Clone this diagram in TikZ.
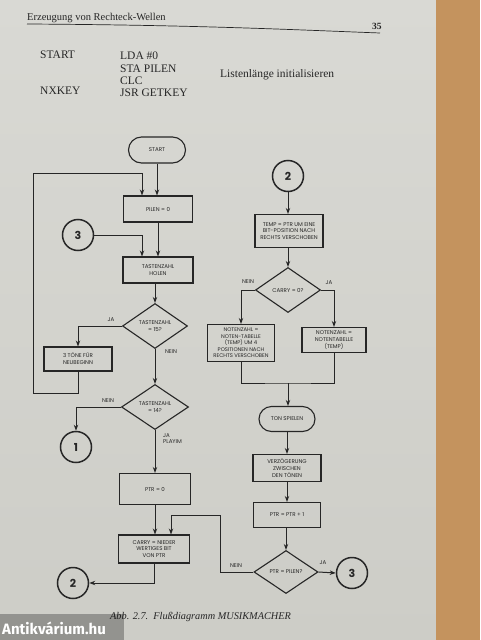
\documentclass[tikz,border=0pt]{standalone}
\usepackage{fontspec}
\setmainfont{Liberation Serif}
\newfontfamily\fc{Poppins}
\newfontfamily\wm{Fira Sans}
\usetikzlibrary{shapes.geometric,shapes.misc,arrows.meta,calc}
\definecolor{ink}{HTML}{262626}
\definecolor{paper}{HTML}{D9D9D4}
\definecolor{paperb}{HTML}{CDCDC7}
\definecolor{wood}{HTML}{C4935E}
\begin{document}
\begin{tikzpicture}[x=1pt,y=-1pt,
  line/.style={draw=ink,line width=1pt},
  arr/.style={line,-{Stealth[length=6pt,width=4.4pt]}},
  fcfont/.style={font=\fc\fontsize{5.5}{6.8}\selectfont},
  box/.style={draw=ink,line width=1.1pt,fcfont,align=center,inner sep=1pt,text=ink},
  dia/.style={box,diamond,aspect=1.5,inner sep=0pt},
  term/.style={box,rounded rectangle},
  conn/.style={draw=ink,circle,line width=1.5pt,minimum size=31pt,inner sep=0pt,font=\fc\bfseries\fontsize{11}{12}\selectfont,text=ink},
  lbl/.style={fcfont,text=ink,inner sep=0pt,align=left},
  code/.style={font=\fontsize{11.5}{13}\selectfont,anchor=base west,inner sep=0pt,text=ink}]
\useasboundingbox (0,0) rectangle (480,640);
% background
\shade[top color=paper,bottom color=paperb] (0,0) rectangle (436,640);
\fill[wood] (436,0) rectangle (480,640);
% header
\node[font=\fontsize{10.5}{12}\selectfont,anchor=base west,inner sep=0pt,text=ink] (hdr) at (27,20) {Erzeugung von Rechteck-Wellen};
\node[font=\bfseries\fontsize{9.5}{11}\selectfont,anchor=base west,inner sep=0pt,text=ink] (pg) at (372,29) {35};
\draw[ink,line width=0.7pt] (27,24) .. controls (200,25) and (300,30) .. (380,33);
% code
\node[code] (c1a) at (40,58) {START};
\node[code] (c1b) at (120,59) {LDA \#0};
\node[code] (c2b) at (120,72) {STA PILEN};
\node[code] (c2c) at (220,77) {Listenlänge initialisieren};
\node[code] (c3b) at (120,84) {CLC};
\node[code] (c4a) at (40,94) {NXKEY};
\node[code] (c4b) at (120,96) {JSR GETKEY};
% left column
\node[term,minimum width=59pt,minimum height=26pt] (start) at (157,150) {START};
\node[box,minimum width=69pt,minimum height=26pt] (pilen) at (158,209) {PILEN = 0};
\node[conn] (k3) at (78,235) {3};
\node[box,minimum width=70pt,minimum height=26pt] (taste) at (158,270) {TASTENZAHL\\HOLEN};
\node[dia,minimum width=65pt,minimum height=45pt] (d15) at (155,326) {TASTENZAHL\\= 15?};
\node[box,minimum width=68pt,minimum height=24pt] (drei) at (78,359) {3 TÖNE FÜR\\NEUBEGINN};
\node[dia,minimum width=67pt,minimum height=45pt] (d14) at (155,407) {TASTENZAHL\\= 14?};
\node[conn] (k1) at (76,447) {1};
\node[box,minimum width=71pt,minimum height=31pt] (ptr0) at (155,489) {PTR = 0};
\node[box,minimum width=71pt,minimum height=28pt] (carry) at (154,549) {CARRY = NIEDER\\WERTIGES BIT\\VON PTR};
\node[conn] (k2b) at (73,583) {2};
% right column
\node[conn] (k2t) at (288,176) {2};
\node[box,minimum width=68pt,minimum height=33pt] (temp) at (289,231) {TEMP = PTR UM EINE\\BIT-POSITION NACH\\RECHTS VERSCHOBEN};
\node[dia,minimum width=65pt,minimum height=45pt] (dcar) at (288,290) {CARRY = 0?};
\node[box,minimum width=67pt,minimum height=37pt,inner sep=0.3pt,font=\fc\fontsize{5.3}{6.5}\selectfont] (left) at (241,343) {NOTENZAHL =\\NOTEN-TABELLE\\(TEMP) UM 4\\POSITIONEN NACH\\RECHTS VERSCHOBEN};
\node[box,minimum width=64pt,minimum height=25pt] (right) at (334,340) {NOTENZAHL =\\NOTENTABELLE\\(TEMP)};
\node[term,minimum width=58pt,minimum height=25pt] (ton) at (287,419) {TON SPIELEN};
\node[box,minimum width=68pt,minimum height=27pt] (verz) at (287,468) {VERZÖGERUNG\\ZWISCHEN\\DEN TÖNEN};
\node[box,minimum width=67pt,minimum height=25pt] (ptrp) at (287,515) {PTR = PTR + 1};
\node[dia,minimum width=64pt,minimum height=43pt] (dpil) at (286,572) {PTR = PILEN?};
\node[conn] (k3r) at (352,573) {3};
% labels
\node[lbl] (lja1) at (111,320) {JA};
\node[lbl] (lnein1) at (171,352) {NEIN};
\node[lbl] (lnein2) at (108,401) {NEIN};
\node[lbl,anchor=north west] (lja2) at (163,433) {JA\\PLAYIM};
\node[lbl] (lnein3) at (248,282) {NEIN};
\node[lbl] (lja3) at (329,283) {JA};
\node[lbl] (lnein4) at (236,566) {NEIN};
\node[lbl] (lja4) at (323,563) {JA};
% coordinates
\coordinate (lp1) at (33,393);
\coordinate (lp2) at (33,173);
\coordinate (np) at (220,515);
\coordinate (mg) at (288,383);
% connectors left
\draw[arr] (start.south) -- (start.south |- pilen.north);
\draw[arr] (drei.south) |- (lp1) -- (lp2) -| ([xshift=-16pt]pilen.north);
\draw[arr] (k3.east) -| ([xshift=-16pt]taste.north);
\draw[arr] (pilen.south) -- (pilen.south |- taste.north);
\draw[arr] (taste.south -| d15.north) -- (d15.north);
\draw[arr] (d15.west) -| (drei.north);
\draw[arr] (d15.south) -- (d14.north);
\draw[arr] (d14.west) -| (k1.north);
\draw[arr] (d14.south) -- (ptr0.north);
\draw[arr] (ptr0.south) -- (ptr0.south |- carry.north);
\draw[arr] (carry.south) |- (k2b.east);
\draw[arr] (dpil.west) -| (np) -| ([xshift=17pt]carry.north);
% connectors right
\draw[arr] (k2t.south) -- (k2t.south |- temp.north);
\draw[arr] (temp.south -| dcar.north) -- (dcar.north);
\draw[arr] (dcar.west) -| (left.north);
\draw[arr] (dcar.east) -| (right.north);
\draw[line] (left.south) |- (mg) -| (right.south);
\draw[arr] (mg) -- (mg |- ton.north);
\draw[arr] (ton.south) -- (ton.south |- verz.north);
\draw[arr] (verz.south) -- (verz.south |- ptrp.north);
\draw[arr] (ptrp.south -| dpil.north) -- (dpil.north);
\draw[arr] (dpil.east) -- (k3r.west);
% caption
\node[font=\itshape\fontsize{10.3}{12}\selectfont,anchor=base west,inner sep=0pt,text=ink] (cap) at (110,619) {Abb. 2.7.\ \ Flußdiagramm MUSIKMACHER};
% watermark
\fill[black,opacity=0.28] (0,614) rectangle (124,640);
\node[font=\wm\bfseries\fontsize{15}{16}\selectfont,text=white,anchor=base west,inner sep=0pt] (wmk) at (2,634) {Antikvárium.hu};
\end{tikzpicture}
\end{document}
